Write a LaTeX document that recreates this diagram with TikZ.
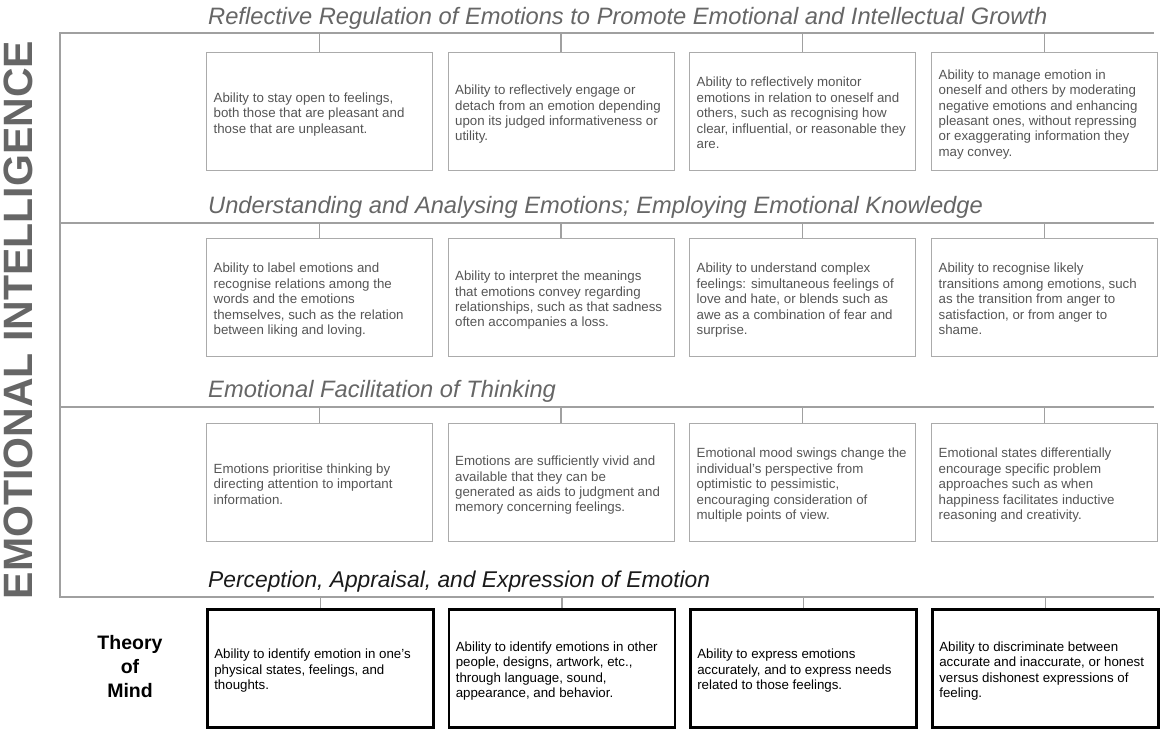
\documentclass[tikz,border=0pt]{standalone}
\usepackage{fontspec}
\setmainfont{Liberation Sans}
\definecolor{linegray}{HTML}{A0A0A0}
\definecolor{boxgray}{HTML}{ABABAB}
\definecolor{textgray}{HTML}{555555}
\definecolor{headgray}{HTML}{666666}
\definecolor{eigray}{HTML}{666666}
\definecolor{headdark}{HTML}{1A1A1A}
\newcommand{\bxt}[1]{\makebox[212pt][l]{\raisebox{-3pt}[\height][\depth]{\begin{tabular}{@{}l@{}}#1\end{tabular}}}}
\tikzset{
  frameline/.style={draw=linegray, line width=1.4pt},
  ebox/.style={draw=boxgray, line width=1.3pt, rectangle, anchor=north west,
    minimum width=226pt, minimum height=118pt, inner xsep=7pt, inner ysep=0pt,
    font=\fontsize{13.3}{15.4}\selectfont, text=textgray},
  tombox/.style={ebox, draw=black, line width=2.6pt, text=black},
  heading/.style={anchor=base west, inner sep=0pt,
    font=\fontsize{23.7}{28}\selectfont\itshape, text=headgray},
}
\begin{document}
\begin{tikzpicture}[x=1pt,y=-1pt]
\useasboundingbox (0,0) rectangle (1160,729);
% levels of the frame lines
\coordinate (L1) at (0,33);
\coordinate (L2) at (0,223);
\coordinate (L3) at (0,407);
\coordinate (L4) at (0,597);
\coordinate (TL) at (60,33);
\coordinate (TR) at (1154,33);
\coordinate (BL) at (60,597);
\coordinate (BR) at (1154,597);
\coordinate (M2L) at (60,223);
\coordinate (M2R) at (1154,223);
\coordinate (M3L) at (60,407);
\coordinate (M3R) at (1154,407);
\draw[frameline] (TR) -- (TL) -- (BL) -- (BR);
\draw[frameline] (M2L) -- (M2R);
\draw[frameline] (M3L) -- (M3R);

% headings
\node[heading] (h1) at (208,24) {Reflective Regulation of Emotions to Promote Emotional and Intellectual Growth};
\node[heading] (h2) at (208,213) {Understanding and Analysing Emotions; Employing Emotional Knowledge};
\node[heading] (h3) at (208,397) {Emotional Facilitation of Thinking};
\node[heading, text=headdark, font=\fontsize{22.8}{27}\selectfont\itshape] (h4) at (208,587) {Perception, Appraisal, and Expression of Emotion};

% side labels
\node[rotate=90, inner sep=0pt, text=eigray, font=\bfseries\fontsize{41}{41}\selectfont] (ei) at (18.5,320) {EMOTIONAL INTELLIGENCE};
\node[align=center, inner sep=0pt, font=\bfseries\fontsize{19.5}{24}\selectfont] (tom) at (130,667) {Theory\\of\\Mind};

% row 1
\node[ebox] (b11) at (206,52) {\bxt{Ability to stay open to feelings,\\both those that are pleasant and\\those that are unpleasant.}};
\node[ebox] (b12) at (447.5,52) {\bxt{Ability to reflectively engage or\\detach from an emotion depending\\upon its judged informativeness or\\utility.}};
\node[ebox] (b13) at (689,52) {\bxt{Ability to reflectively monitor\\emotions in relation to oneself and\\others, such as recognising how\\clear, influential, or reasonable they\\are.}};
\node[ebox] (b14) at (931,52) {\bxt{Ability to manage emotion in\\oneself and others by moderating\\negative emotions and enhancing\\pleasant ones, without repressing\\or exaggerating information they\\may convey.}};
% row 2
\node[ebox] (b21) at (206,238) {\bxt{Ability to label emotions and\\recognise relations among the\\words and the emotions\\themselves, such as the relation\\between liking and loving.}};
\node[ebox] (b22) at (447.5,238) {\bxt{Ability to interpret the meanings\\that emotions convey regarding\\relationships, such as that sadness\\often accompanies a loss.}};
\node[ebox] (b23) at (689,238) {\bxt{Ability to understand complex\\feelings: simultaneous feelings of\\love and hate, or blends such as\\awe as a combination of fear and\\surprise.}};
\node[ebox] (b24) at (931,238) {\bxt{Ability to recognise likely\\transitions among emotions, such\\as the transition from anger to\\satisfaction, or from anger to\\shame.}};
% row 3
\node[ebox] (b31) at (206,423) {\bxt{Emotions prioritise thinking by\\directing attention to important\\information.}};
\node[ebox] (b32) at (447.5,423) {\bxt{Emotions are sufficiently vivid and\\available that they can be\\generated as aids to judgment and\\memory concerning feelings.}};
\node[ebox] (b33) at (689,423) {\bxt{Emotional mood swings change the\\individual’s perspective from\\optimistic to pessimistic,\\encouraging consideration of\\multiple points of view.}};
\node[ebox] (b34) at (931,423) {\bxt{Emotional states differentially\\encourage specific problem\\approaches such as when\\happiness facilitates inductive\\reasoning and creativity.}};
% row 4
\node[tombox] (b41) at (206,608) {\bxt{Ability to identify emotion in one’s\\physical states, feelings, and\\thoughts.}};
\node[tombox] (b42) at (447.5,608) {\bxt{Ability to identify emotions in other\\people, designs, artwork, etc.,\\through language, sound,\\appearance, and behavior.}};
\node[tombox] (b43) at (689,608) {\bxt{Ability to express emotions\\accurately, and to express needs\\related to those feelings.}};
\node[tombox] (b44) at (931,608) {\bxt{Ability to discriminate between\\accurate and inaccurate, or honest\\versus dishonest expressions of\\feeling.}};

% ticks
\foreach \c in {1,2,3,4}{
  \draw[frameline] (b1\c.north) -- (b1\c.north |- L1);
  \draw[frameline] (b2\c.north) -- (b2\c.north |- L2);
  \draw[frameline] (b3\c.north) -- (b3\c.north |- L3);
  \draw[frameline] (b4\c.north) -- (b4\c.north |- L4);
}
\end{tikzpicture}
\end{document}
